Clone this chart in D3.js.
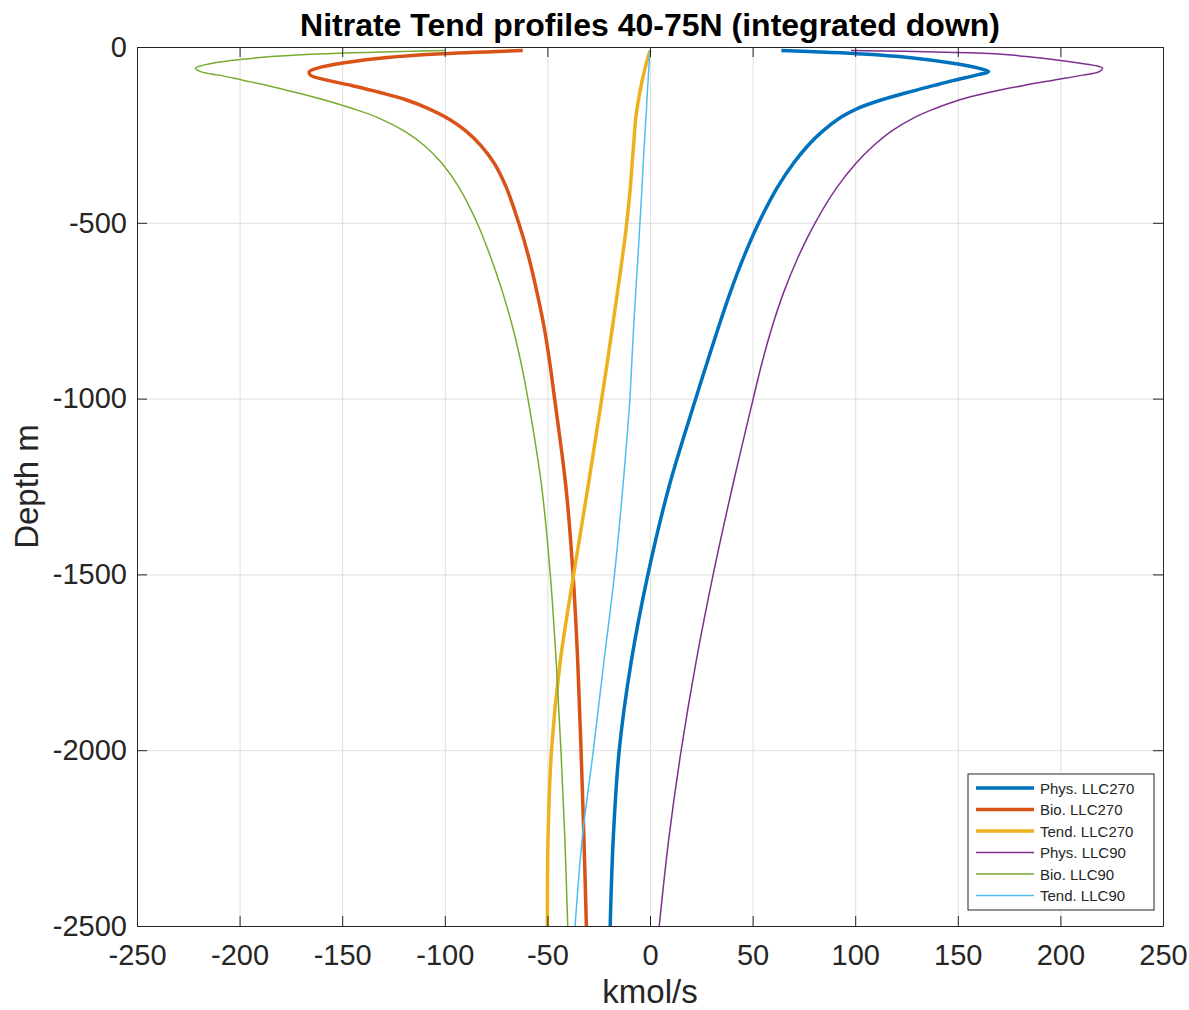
<!DOCTYPE html>
<html>
<head>
<meta charset="utf-8">
<script src="https://cdn.jsdelivr.net/npm/d3@7"></script>
<style>
  body { margin: 0; background: #fff; }
  text { font-family: "Liberation Sans", Arial, Helvetica, sans-serif; fill: #262626; }
</style>
</head>
<body>
<div id="chart-area"></div>
<script>
// depth levels (m) shared by all profiles
var depth = [-10, -20, -30, -45, -60, -70, -80, -95, -110, -130, -150, -175, -200, -240, -280, -330, -400,
    -500, -600, -700, -800, -900, -1000, -1250, -1500, -1750, -2000, -2250, -2500];

// kmol/s
var physLLC270 = [64, 104, 126, 146, 160, 165, 159, 148, 138, 125, 113, 101, 93, 84, 77, 70, 62,
    53, 45.5, 39, 33.2, 27.7, 22.3, 9.3, -1, -9.2, -15, -17.9, -19.4];
var bioLLC270 = [-62, -104, -128, -149, -162, -166, -165.5, -157, -145, -131, -119, -108, -99.5, -89.5, -82.5, -76, -70,
    -64, -59, -55, -51.5, -48.8, -46.5, -41, -37.5, -35.2, -33.6, -32.2, -31];
var tendLLC270 = [0, -0.5, -1, -1.7, -2.4, -2.8, -3.2, -3.8, -4.3, -5, -5.6, -6.3, -6.9, -7.5, -8, -8.7, -9.6,
    -11.3, -13.5, -15.9, -18.4, -20.9, -23.5, -30.2, -37.2, -43.8, -48, -49.7, -50];
var physLLC90 = [98, 170, 188, 208, 220.5, 219, 211, 196, 181.5, 164.5, 151, 139, 129, 117.5, 109, 100.5, 91,
    80.5, 72, 65, 59.3, 54.5, 50.3, 40.2, 30.8, 22.4, 15.2, 9.2, 4.5];
var bioLLC90 = [-100, -162, -190, -212, -221.5, -219, -210, -198, -186, -172, -159, -145, -133, -119.5, -110, -101.5, -93,
    -84.3, -77.5, -71.7, -66.8, -62.8, -59.5, -52.8, -48.6, -45.7, -43.4, -41.5, -40.1];
var tendLLC90 = [0, -0.2, -0.3, -0.4, -0.6, -0.7, -0.8, -0.9, -1.1, -1.3, -1.5, -1.7, -2, -2.4, -2.8, -3.3, -3.9,
    -4.9, -5.9, -7, -8, -8.9, -9.8, -13.2, -17.3, -22.5, -27.6, -33, -36.5];

var seriesNames = ["Phys. LLC270", "Bio. LLC270", "Tend. LLC270", "Phys. LLC90", "Bio. LLC90", "Tend. LLC90"];
var xTicks = [-250, -200, -150, -100, -50, 0, 50, 100, 150, 200, 250];
var yTicks = [-2500, -2000, -1500, -1000, -500, 0];

var series = [
    {name: seriesNames[0], values: physLLC270, color: "#0072BD", width: 3.5},
    {name: seriesNames[1], values: bioLLC270, color: "#D95319", width: 3.5},
    {name: seriesNames[2], values: tendLLC270, color: "#EDB120", width: 3.5},
    {name: seriesNames[3], values: physLLC90, color: "#7E2F8E", width: 1.5},
    {name: seriesNames[4], values: bioLLC90, color: "#77AC30", width: 1.5},
    {name: seriesNames[5], values: tendLLC90, color: "#4DBEEE", width: 1.5}
];

var margin = {top: 47, left: 137, bottom: 84, right: 26},
    width = 1189 - margin.left - margin.right,
    height = 1010 - margin.top - margin.bottom;

var svg = d3.select("#chart-area").append("svg")
    .attr("width", 1189)
    .attr("height", 1010);
var g = svg.append("g")
    .attr("transform", "translate(" + margin.left + ", " + margin.top + ")");

var x = d3.scaleLinear().domain([-250, 250]).range([0, width]);
var y = d3.scaleLinear().domain([-2500, 0]).range([height, 0]);

// grid
g.append("g")
    .attr("class", "grid")
    .attr("transform", "translate(0, " + height + ")")
    .call(d3.axisBottom(x).tickValues(xTicks).tickSize(-height).tickFormat(""))
g.append("g")
    .attr("class", "grid")
    .call(d3.axisLeft(y).tickValues(yTicks).tickSize(-width).tickFormat(""))
g.selectAll(".grid path").remove();
g.selectAll(".grid line").attr("stroke", "#dfdfdf");

// profiles (x as a function of depth)
var line = d3.line()
    .x((d) => {return x(d)})
    .y((d, i) => {return y(depth[i])})
    .curve(d3.curveCatmullRom.alpha(0.5));

series.forEach((s) => {
    g.append("path")
        .attr("fill", "none")
        .attr("stroke", s.color)
        .attr("stroke-width", s.width)
        .attr("stroke-linejoin", "round")
        .attr("d", line(s.values))
});

// axes, box with inward ticks
var xAxis = g.append("g")
    .attr("class", "axis")
    .attr("transform", "translate(0, " + height + ")")
    .call(d3.axisBottom(x).tickValues(xTicks).tickSize(-10).tickSizeOuter(0).tickFormat(d3.format("d")))
var yAxis = g.append("g")
    .attr("class", "axis")
    .call(d3.axisLeft(y).tickValues(yTicks).tickSize(-10).tickSizeOuter(0).tickPadding(10).tickFormat(d3.format("d")))
g.append("g")
    .attr("class", "axis")
    .call(d3.axisTop(x).tickValues(xTicks).tickSize(-10).tickSizeOuter(0).tickFormat(""))
g.append("g")
    .attr("class", "axis")
    .attr("transform", "translate(" + width + ", 0)")
    .call(d3.axisRight(y).tickValues(yTicks).tickSize(-10).tickSizeOuter(0).tickFormat(""))

g.selectAll(".axis .domain").attr("stroke", "#262626");
g.selectAll(".axis .tick line").attr("stroke", "#262626");
xAxis.selectAll("text").attr("font-size", 29).attr("y", 18).attr("fill", "#262626");
yAxis.selectAll("text").attr("font-size", 29).attr("fill", "#262626");
g.selectAll(".axis").attr("font-family", null);
g.selectAll(".axis .tick text").each(function() {this.textContent = this.textContent.replace("\u2212", "-")});

// labels
svg.append("text")
    .attr("x", margin.left + width / 2)
    .attr("y", 36)
    .attr("text-anchor", "middle")
    .attr("font-size", 32)
    .attr("font-weight", "bold")
    .style("fill", "#000")
    .text("Nitrate Tend profiles 40-75N (integrated down)");
svg.append("text")
    .attr("x", margin.left + width / 2)
    .attr("y", 1003)
    .attr("text-anchor", "middle")
    .attr("font-size", 33)
    .text("kmol/s");
svg.append("text")
    .attr("transform", "translate(38, " + (margin.top + height / 2) + ") rotate(-90)")
    .attr("text-anchor", "middle")
    .attr("font-size", 33)
    .text("Depth m");

// legend
var legend = svg.append("g")
    .attr("transform", "translate(968, 774)");
legend.append("rect")
    .attr("width", 186)
    .attr("height", 136)
    .attr("fill", "#fff")
    .attr("stroke", "#262626")
    .attr("stroke-width", 1);
var items = legend.selectAll(".item")
    .data(series)
    .enter().append("g")
    .attr("class", "item")
    .attr("transform", (d, i) => {return "translate(0, " + (14 + i * 21.5) + ")"});
items.append("line")
    .attr("x1", 8)
    .attr("x2", 66)
    .attr("stroke", (d) => {return d.color})
    .attr("stroke-width", (d) => {return d.width});
items.append("text")
    .attr("x", 72)
    .attr("y", 5.5)
    .attr("font-size", 15)
    .text((d) => {return d.name});
</script>
</body>
</html>
